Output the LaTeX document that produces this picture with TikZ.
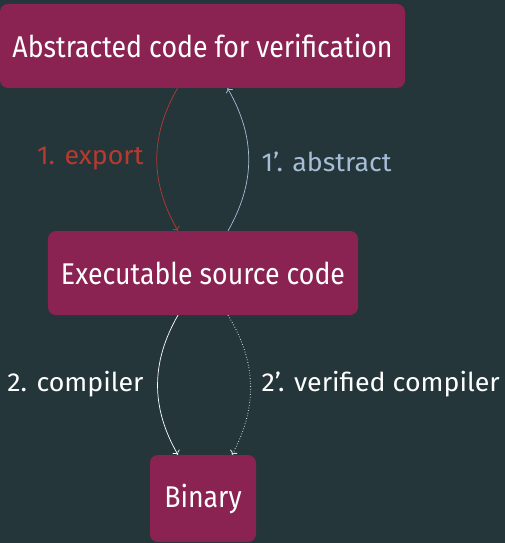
\documentclass[tikz,border=0pt]{standalone}
\usepackage{fontspec}
\setmainfont{Fira Sans}
\newfontfamily\stagefont{Fira Sans}[FakeStretch=0.89]
\newfontfamily\labelfont{Fira Sans}[FakeStretch=1.03]
\usetikzlibrary{arrows.meta}
\definecolor{bgteal}{HTML}{24363A}
\definecolor{boxred}{HTML}{8A2252}
\definecolor{exportred}{HTML}{B8392F}
\definecolor{abstractblue}{HTML}{A6BDD6}
\begin{document}
\begin{tikzpicture}[x=1bp,y=-1bp,
  every node/.style={font=\labelfont\fontsize{26bp}{30bp}\selectfont},
  stage/.style={fill=boxred,text=white,rounded corners=8bp,inner sep=0pt,
    font=\stagefont\fontsize{30bp}{34bp}\selectfont},
  flow/.style={-{To[length=4bp,width=8bp]},line width=0.7bp,bend angle=30}]
% background and frame
\fill[bgteal] (0,0) rectangle (505,543);
\useasboundingbox (0,0) rectangle (505,543);
% the three stages
\node[stage,minimum width=405bp,minimum height=84bp] (abs) at (202.5,46) {Abstracted code for verification};
\node[stage,minimum width=310bp,minimum height=84bp] (src) at (203,273) {Executable source code};
\node[stage,minimum width=106bp,minimum height=87bp] (bin) at (203,498.5) {Binary};
% export / abstract between the top two
\draw[flow,exportred] ([xshift=-25bp]abs.south) to[bend right] ([xshift=-25bp]src.north);
\draw[flow,abstractblue] ([xshift=25bp]src.north) to[bend right] ([xshift=25bp]abs.south);
\node[exportred,anchor=east] (lexp) at (147,159) {1. export};
\node[abstractblue,anchor=west] (labs) at (258,162) {1’. abstract};
% compilation down to the binary
\draw[flow,white] ([xshift=-25bp]src.south) to[bend right] ([xshift=-25bp]bin.north);
\draw[flow,white!85!bgteal,dotted,line width=0.9bp] ([xshift=25bp]src.south) to[bend left] ([xshift=29bp]bin.north);
\node[white,anchor=east] (lcc) at (147,384) {2. compiler};
\node[white,anchor=west] (lvc) at (258,384) {2’. verified compiler};
\end{tikzpicture}
\end{document}
